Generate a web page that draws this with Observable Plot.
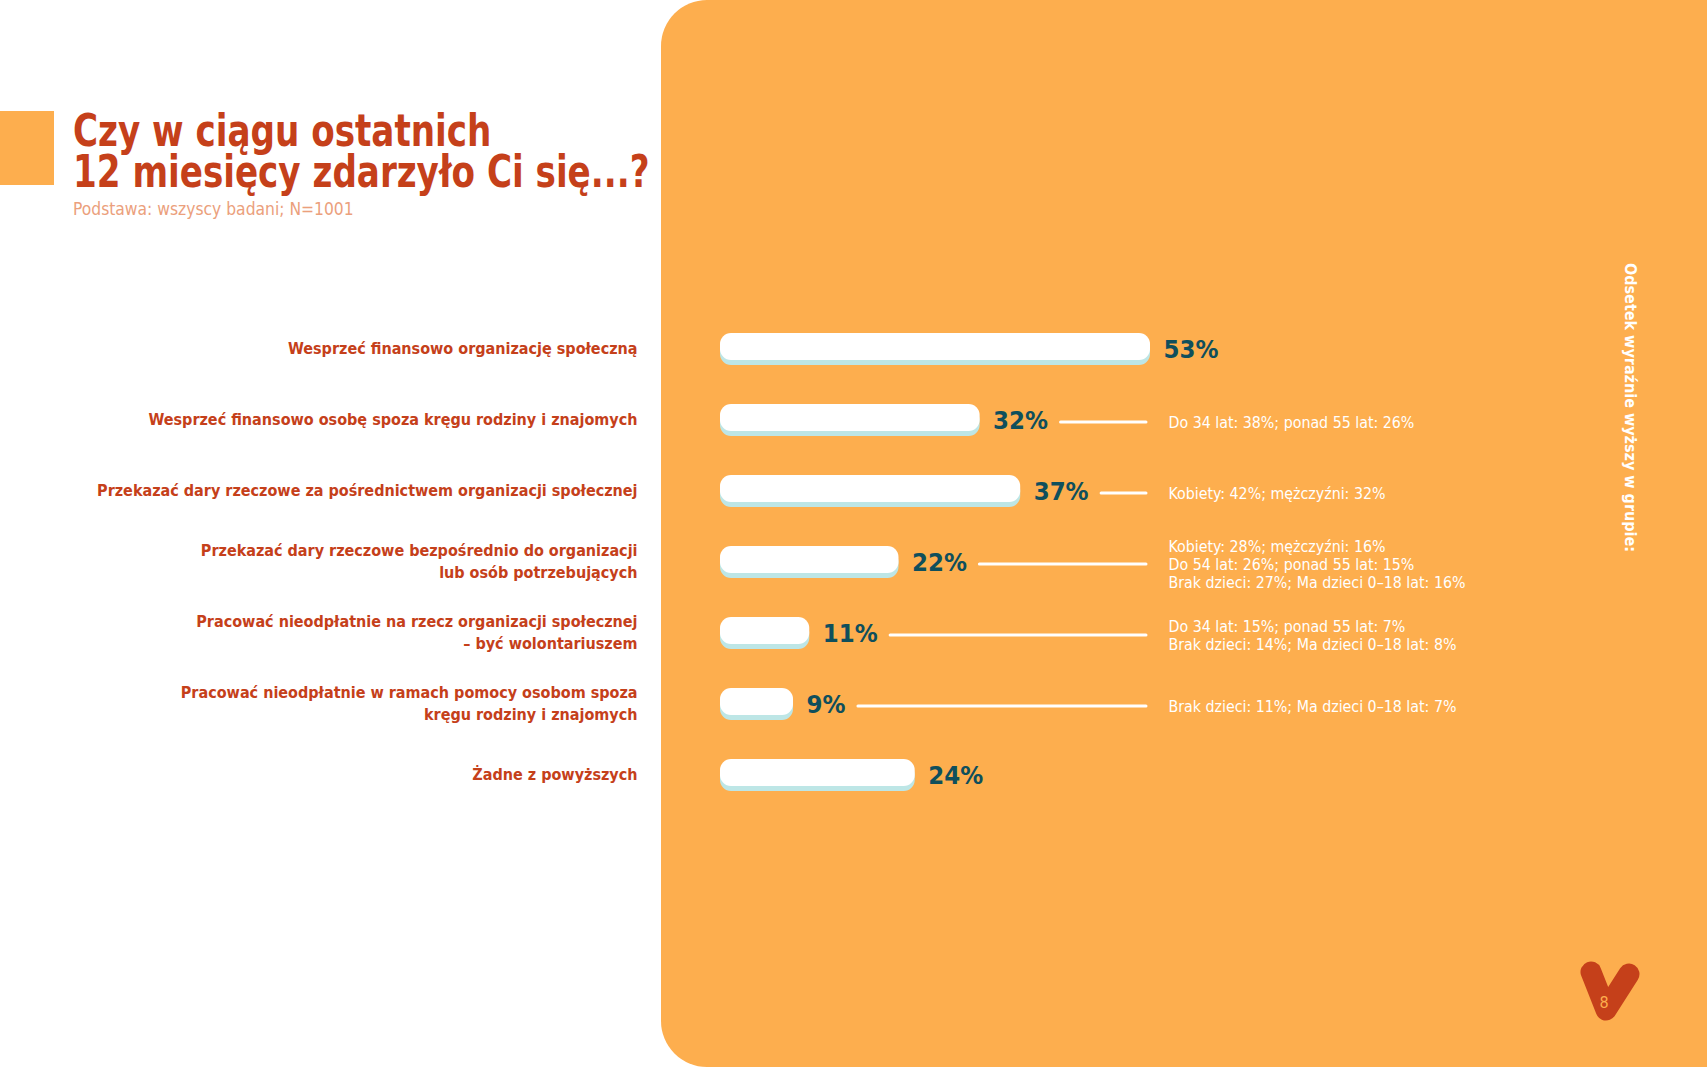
<!DOCTYPE html>
<html lang="pl">
<head>
<meta charset="utf-8">
<script src="https://cdn.jsdelivr.net/npm/d3@7"></script>
<script src="https://cdn.jsdelivr.net/npm/@observablehq/plot@0.6"></script>
<style>
  html, body { margin: 0; padding: 0; background: #ffffff; }
  body { width: 1707px; height: 1067px; position: relative; overflow: hidden;
         font-family: 'DejaVu Sans Condensed', 'DejaVu Sans', sans-serif; }
  #panel { position: absolute; left: 661px; top: 0; width: 1046px; height: 1067px;
           background: #FDAE4E; border-radius: 46px 0 0 46px; }
  #square { position: absolute; left: 0; top: 111px; width: 54px; height: 74px; background: #FDAE4E; }
  #title { position: absolute; left: 73px; top: 110px; margin: 0; font-size: 44px; line-height: 41px;
           font-weight: bold; color: #C5401A; white-space: nowrap;
           transform: scaleX(0.863); transform-origin: 0 0; }
  #subtitle { position: absolute; left: 73px; top: 200px; font-size: 17.3px; line-height: 18px;
              color: #EBA07C; white-space: nowrap; }
  #side { position: absolute; left: 1621px; top: 263px; writing-mode: vertical-rl;
          font-size: 16px; font-weight: bold; color: #ffffff; white-space: nowrap; line-height: 18px; }
  #chart { position: absolute; left: 0; top: 0; }
  #logo { position: absolute; left: 0; top: 0; }
  #chart svg g[aria-label="y-axis tick label"] text { font-weight: bold; }
</style>
</head>
<body>
<div id="panel"></div>
<div id="square"></div>
<h1 id="title">Czy w ciągu ostatnich<br>12 miesięcy zdarzyło Ci się...?</h1>
<div id="subtitle">Podstawa: wszyscy badani; N=1001</div>
<div id="side">Odsetek wyraźnie wyższy w grupie:</div>
<div id="chart"></div>
<svg id="logo" width="1707" height="1067" style="pointer-events:none">
  <path d="M1591 972 L1606 1010 L1629 974" fill="none" stroke="#C5401A" stroke-width="21"
        stroke-linecap="round" stroke-linejoin="round"/>
  <text x="1604" y="1008" text-anchor="middle" font-size="16" fill="#FDAE4E"
        font-family="'DejaVu Sans Condensed', sans-serif">8</text>
</svg>
<script>
const FONT = "'DejaVu Sans Condensed', 'DejaVu Sans', sans-serif";

const categories = [
  "Wesprzeć finansowo organizację społeczną",
  "Wesprzeć finansowo osobę spoza kręgu rodziny i znajomych",
  "Przekazać dary rzeczowe za pośrednictwem organizacji społecznej",
  "Przekazać dary rzeczowe bezpośrednio do organizacji\nlub osób potrzebujących",
  "Pracować nieodpłatnie na rzecz organizacji społecznej\n– być wolontariuszem",
  "Pracować nieodpłatnie w ramach pomocy osobom spoza\nkręgu rodziny i znajomych",
  "Żadne z powyższych"
];
const values = [53, 32, 37, 22, 11, 9, 24];
const notes = [
  "",
  "Do 34 lat: 38%; ponad 55 lat: 26%",
  "Kobiety: 42%; mężczyźni: 32%",
  "Kobiety: 28%; mężczyźni: 16%\nDo 54 lat: 26%; ponad 55 lat: 15%\nBrak dzieci: 27%; Ma dzieci 0–18 lat: 16%",
  "Do 34 lat: 15%; ponad 55 lat: 7%\nBrak dzieci: 14%; Ma dzieci 0–18 lat: 8%",
  "Brak dzieci: 11%; Ma dzieci 0–18 lat: 7%",
  ""
];

const data = categories.map((c, i) => ({cat: c, value: values[i], note: notes[i], label: values[i] + "%"}));

const W = 1707, H = 1067;
const marginLeft = 720, marginRight = 557;
const xMax = d3.max(values);
const k = (W - marginLeft - marginRight) / xMax; // px per percentage point

// measure value-label widths so connector lines start after the label
const valueFontSize = 25.5;
const ctx = document.createElement("canvas").getContext("2d");
ctx.font = `bold ${valueFontSize}px ${FONT}`;
const labelDx = 13, gap = 13, lineDx = -4;
const withNotes = data.filter(d => d.note).map(d => ({
  ...d,
  lineStart: d.value + (ctx.measureText(d.label).width + labelDx + gap - lineDx) / k
}));

const chart = Plot.plot({
  width: W,
  height: H,
  marginLeft,
  marginRight,
  marginTop: 286,
  marginBottom: 234,
  style: {background: "transparent", fontFamily: FONT, overflow: "visible"},
  x: {domain: [0, xMax], axis: null},
  y: {domain: categories, padding: 0.623, label: null},
  marks: [
    Plot.axisY({tickSize: 0, tickPadding: 83, fontSize: 16, color: "#C5401A", lineHeight: 1.34, label: null}),
    Plot.barX(data, {x: "value", y: "cat", fill: "#BDE6E6", rx: 11, dy: 5}),
    Plot.barX(data, {x: "value", y: "cat", fill: "#ffffff", rx: 11}),
    Plot.text(data, {x: "value", y: "cat", text: "label", textAnchor: "start", dx: labelDx, dy: 3,
                     fill: "#0F4F5C", fontSize: valueFontSize, fontWeight: "bold"}),
    Plot.ruleY(withNotes, {y: "cat", x1: "lineStart", x2: () => xMax, dx: lineDx, dy: 4,
                           stroke: "#ffffff", strokeWidth: 3, strokeLinecap: "round"}),
    Plot.text(withNotes, {x: () => xMax, y: "cat", text: "note", textAnchor: "start", dx: 18, dy: 4,
                          fill: "#ffffff", fontSize: 15.8, lineHeight: 1.14})
  ]
});
document.getElementById("chart").appendChild(chart);
</script>
</body>
</html>
